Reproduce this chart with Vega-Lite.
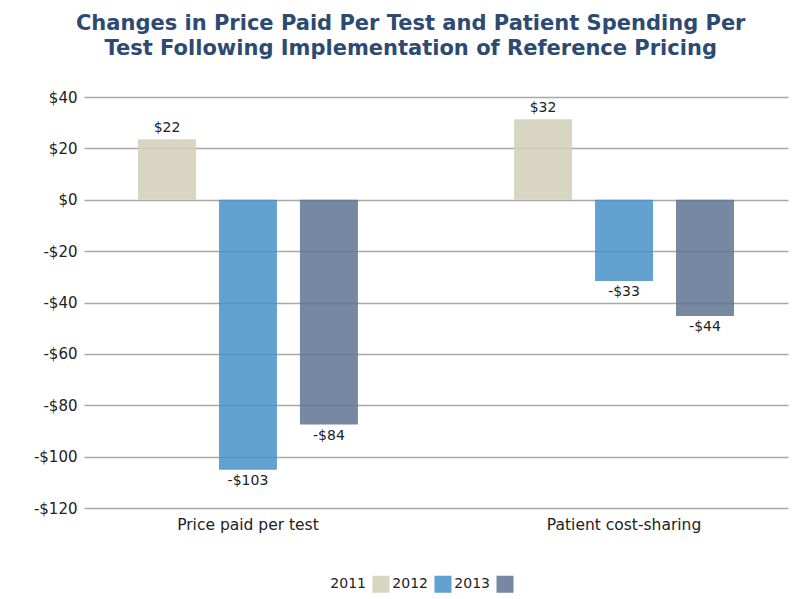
{
  "$schema": "https://vega.github.io/schema/vega-lite/v6.json",
  "autosize": {"type": "none"},
  "padding": {"left": 84, "top": 97, "right": 16, "bottom": 91},
  "width": 704,
  "height": 411,
  "background": "white",
  "title": {
    "text": ["Changes in Price Paid Per Test and Patient Spending Per", "Test Following Implementation of Reference Pricing"],
    "font": "DejaVu Sans",
    "fontSize": 21,
    "fontWeight": "bold",
    "color": "#2d4a70",
    "anchor": "middle",
    "frame": "bounds",
    "offset": 31,
    "lineHeight": 25
  },
  "config": {"view": {"stroke": null}},
  "data": {
    "values": [
      {"measure": "Price paid per test", "year": "2011", "value": 23.6, "label": "$22"},
      {"measure": "Price paid per test", "year": "2012", "value": -105.1, "label": "-$103"},
      {"measure": "Price paid per test", "year": "2013", "value": -87.5, "label": "-$84"},
      {"measure": "Patient cost-sharing", "year": "2011", "value": 31.3, "label": "$32"},
      {"measure": "Patient cost-sharing", "year": "2012", "value": -31.6, "label": "-$33"},
      {"measure": "Patient cost-sharing", "year": "2013", "value": -45.3, "label": "-$44"}
    ]
  },
  "encoding": {
    "x": {
      "field": "measure",
      "type": "nominal",
      "sort": ["Price paid per test", "Patient cost-sharing"],
      "scale": {"paddingInner": 0.128, "paddingOuter": 0},
      "axis": {
        "title": null,
        "domain": false,
        "ticks": false,
        "labelAngle": 0,
        "labelFont": "DejaVu Sans",
        "labelFontSize": 15.5,
        "labelColor": "#222222",
        "labelPadding": 9
      }
    },
    "xOffset": {
      "field": "year",
      "type": "nominal",
      "sort": ["2011", "2012", "2013"],
      "scale": {"paddingInner": 0.284, "paddingOuter": 0.667}
    },
    "y": {
      "field": "value",
      "type": "quantitative",
      "scale": {"domain": [-120, 40], "nice": false, "zero": false},
      "axis": {
        "title": null,
        "values": [-120, -100, -80, -60, -40, -20, 0, 20, 40],
        "domain": false,
        "ticks": false,
        "labelExpr": "datum.value < 0 ? '-$' + abs(datum.value) : '$' + datum.value",
        "labelFont": "DejaVu Sans",
        "labelFontSize": 15,
        "labelColor": "#222222",
        "labelPadding": 7,
        "gridColor": "#a8a8a8",
        "gridWidth": 1.3
      }
    }
  },
  "layer": [
    {
      "mark": {"type": "bar", "opacity": 0.85},
      "encoding": {
        "color": {
          "field": "year",
          "type": "nominal",
          "sort": ["2011", "2012", "2013"],
          "scale": {"domain": ["2011", "2012", "2013"], "range": ["#d1cfb7", "#4890c9", "#5f7492"]},
          "legend": {
            "orient": "none",
            "legendX": 288,
            "legendY": 478,
            "direction": "horizontal",
            "title": null,
            "symbolType": "square",
            "symbolSize": 290,
            "symbolStrokeWidth": 0,
            "labelFont": "DejaVu Sans",
            "labelFontSize": 14,
            "labelColor": "#222222",
            "labelAlign": "right",
            "labelOffset": -24,
            "columnPadding": 2
          }
        }
      }
    },
    {
      "transform": [{"filter": "datum.value > 0"}],
      "mark": {"type": "text", "baseline": "bottom", "dy": -4, "font": "DejaVu Sans", "fontSize": 14, "color": "#222222"},
      "encoding": {"text": {"field": "label", "type": "nominal"}}
    },
    {
      "transform": [{"filter": "datum.value < 0"}],
      "mark": {"type": "text", "baseline": "top", "dy": 4, "font": "DejaVu Sans", "fontSize": 14, "color": "#222222"},
      "encoding": {"text": {"field": "label", "type": "nominal"}}
    }
  ]
}
